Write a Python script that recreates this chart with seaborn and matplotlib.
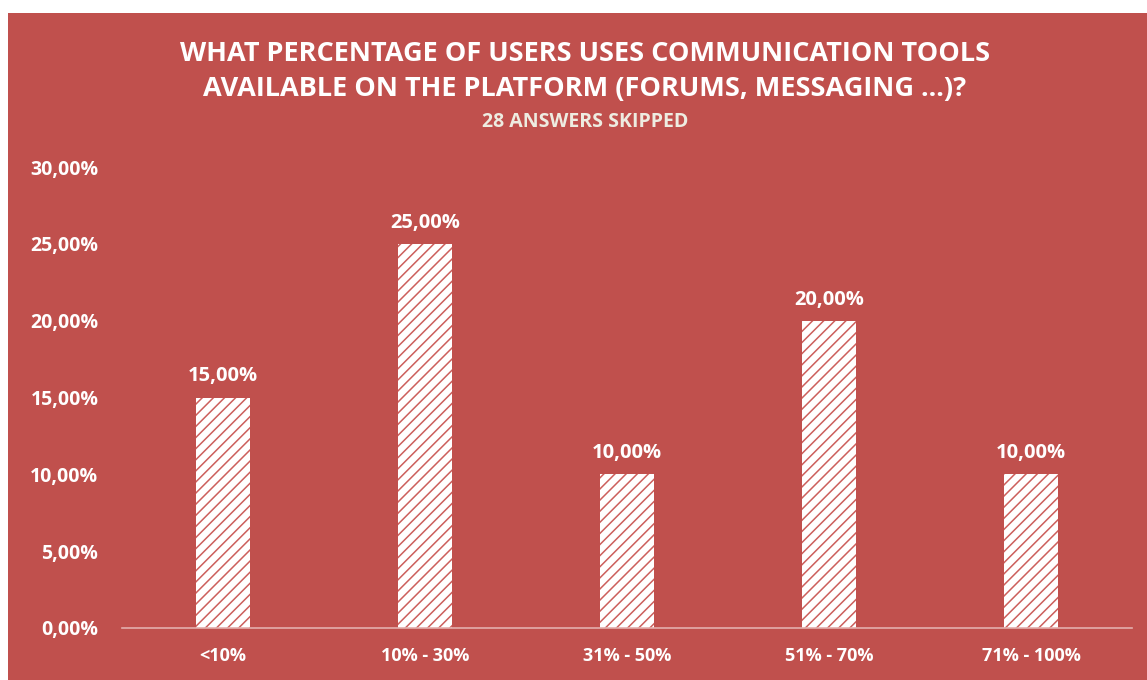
import matplotlib
matplotlib.use("Agg")
import matplotlib.pyplot as plt
from matplotlib.patches import Rectangle
from matplotlib.ticker import FuncFormatter
import seaborn as sns
import pandas as pd

categories = ["<10%", "10% - 30%", "31% - 50%", "51% - 70%", "71% - 100%"]
values = [15.0, 25.0, 10.0, 20.0, 10.0]
y_ticks = [0, 5, 10, 15, 20, 25, 30]
title_lines = ["WHAT PERCENTAGE OF USERS USES COMMUNICATION TOOLS",
               "AVAILABLE ON THE PLATFORM (FORUMS, MESSAGING ...)?"]
subtitle = "28 ANSWERS SKIPPED"

RED = "#C0504D"
HATCH_RED = "#CC5F5C"
AXIS_LINE = "#E3AEAC"
BEIGE = "#EEECE1"

sns.set_style("white")
plt.rcParams["font.family"] = ["Open Sans", "DejaVu Sans"]
plt.rcParams["hatch.linewidth"] = 1.1

W, H = 1147, 680
fig = plt.figure(figsize=(W / 100, H / 100), dpi=100, facecolor="white")

# red panel behind the chart, leaving a thin white margin top and left
fig.patches.append(Rectangle((8 / W, 0), 1 - 8 / W, 1 - 13 / H,
                             transform=fig.transFigure, facecolor=RED,
                             edgecolor="none", zorder=-10))

ax = fig.add_axes([122 / W, 52 / H, (1132 - 122) / W, (628 - 167) / H])
ax.set_facecolor("none")
ax.set_zorder(5)

df = pd.DataFrame({"category": categories, "value": values})
sns.barplot(data=df, x="category", y="value", ax=ax, width=0.27,
            color="white", saturation=1)

for p in ax.patches:
    p.set_facecolor("white")
    p.set_edgecolor(HATCH_RED)
    p.set_linewidth(0)
    p.set_hatch("///")

for p, v in zip(ax.patches, values):
    ax.annotate(f"{v:.2f}%".replace(".", ","),
                (p.get_x() + p.get_width() / 2, p.get_height()),
                xytext=(0, 8), textcoords="offset points",
                ha="center", va="bottom", color="white",
                fontsize=14.5, fontweight="bold")

ax.set_ylim(0, 30)
ax.set_yticks(y_ticks)
ax.yaxis.set_major_formatter(FuncFormatter(lambda v, _: f"{v:.2f}%".replace(".", ",")))
ax.set_xlim(-0.5, len(categories) - 0.5)

ax.tick_params(axis="y", length=0, pad=17, labelsize=14, labelcolor="white")
ax.tick_params(axis="x", length=0, pad=14, labelsize=13, labelcolor="white")
for lab in ax.get_yticklabels() + ax.get_xticklabels():
    lab.set_fontweight("bold")

ax.set_xlabel("")
ax.set_ylabel("")
for side in ["top", "right", "left"]:
    ax.spines[side].set_visible(False)
ax.spines["bottom"].set_color(AXIS_LINE)
ax.spines["bottom"].set_linewidth(1.2)

fig.text(585 / W, 1 - 54 / H, title_lines[0], ha="center", va="center",
         color="white", fontsize=19.5, fontweight="bold")
fig.text(585 / W, 1 - 89 / H, title_lines[1], ha="center", va="center",
         color="white", fontsize=19.5, fontweight="bold")
fig.text(585 / W, 1 - 122 / H, subtitle, ha="center", va="center",
         color=BEIGE, fontsize=14, fontweight="bold")

fig.savefig("out.png", dpi=100, facecolor="white")
